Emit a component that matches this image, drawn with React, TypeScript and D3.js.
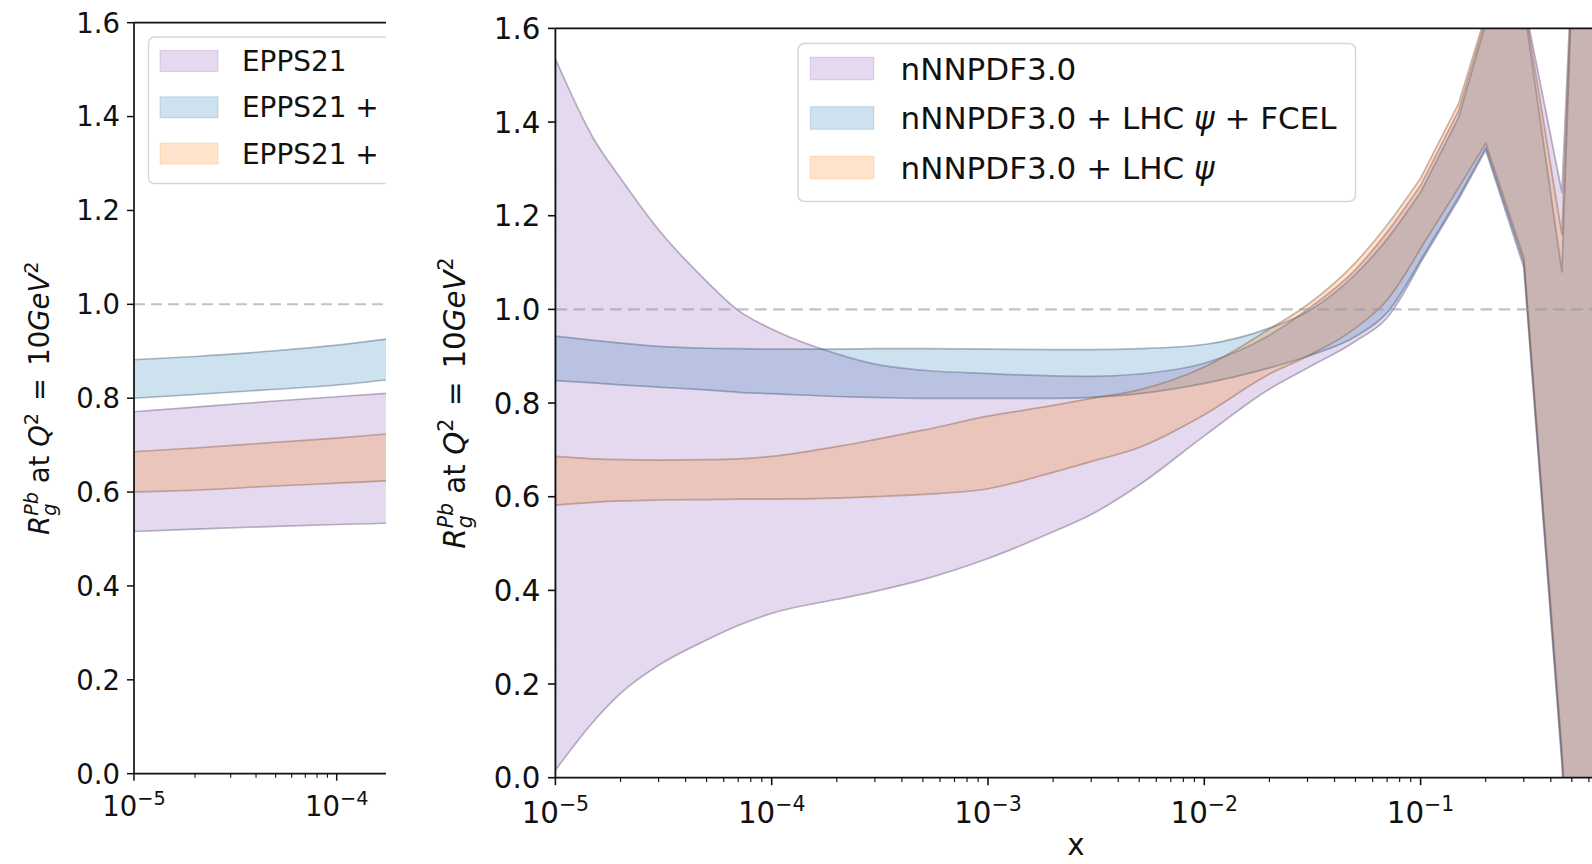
import * as d3 from 'd3';
import React, { useEffect, useRef } from 'react';

const W = 1592;
const H = 864;
const FONT = '"DejaVu Sans", Verdana, sans-serif';

// left panel: EPPS21 (only the first ~1.2 decades are visible)
const eppsX = [1e-5, 2e-5, 5e-5, 1e-4, 2e-4, 3e-4];
const eppsLo = [0.516, 0.521, 0.527, 0.531, 0.534, 0.536];
const eppsHi = [0.771, 0.781, 0.794, 0.803, 0.812, 0.817];
const eppsFcelLo = [0.8, 0.808, 0.819, 0.828, 0.841, 0.847];
const eppsFcelHi = [0.882, 0.889, 0.901, 0.913, 0.929, 0.938];
const eppsLhcLo = [0.6, 0.604, 0.613, 0.619, 0.625, 0.629];
const eppsLhcHi = [0.686, 0.694, 0.706, 0.715, 0.726, 0.732];

// right panel: nNNPDF3.0
const nnX = [1e-5, 1.5e-5, 2e-5, 3e-5, 5e-5, 7e-5, 1e-4, 2e-4, 3e-4, 5e-4, 1e-3, 2e-3, 3e-3, 5e-3,
  1e-2, 2e-2, 3e-2, 5e-2, 7e-2, 0.1, 0.15, 0.2, 0.3, 0.45, 0.5, 0.7, 1];
const nnHi = [1.535, 1.365, 1.28, 1.17, 1.06, 0.998, 0.958, 0.905, 0.883, 0.87, 0.863, 0.858, 0.857, 0.862,
  0.885, 0.945, 1.0, 1.085, 1.165, 1.265, 1.425, 1.62, 1.66, 1.25, 1.72, 2.0, 2.0];
const nnLo = [0.016, 0.12, 0.18, 0.24, 0.294, 0.325, 0.351, 0.381, 0.398, 0.423, 0.468, 0.525, 0.562, 0.625,
  0.73, 0.83, 0.875, 0.932, 0.982, 1.1, 1.235, 1.34, 1.09, 0.03, -0.3, -0.5, -0.5];
const nnFcelHi = [0.943, 0.934, 0.928, 0.921, 0.917, 0.916, 0.915, 0.915, 0.916, 0.916, 0.915, 0.914, 0.914, 0.916,
  0.925, 0.96, 0.995, 1.075, 1.15, 1.25, 1.41, 1.61, 1.65, 1.08, 1.68, 2.0, 2.0];
const nnFcelLo = [0.848, 0.843, 0.839, 0.834, 0.828, 0.823, 0.82, 0.814, 0.812, 0.81, 0.81, 0.81, 0.812, 0.82,
  0.842, 0.875, 0.9, 0.942, 0.993, 1.105, 1.24, 1.345, 1.1, 0.04, -0.3, -0.5, -0.5];
const nnLhcHi = [0.686, 0.681, 0.679, 0.678, 0.679, 0.681, 0.686, 0.707, 0.722, 0.742, 0.772, 0.795, 0.81, 0.828,
  0.877, 0.958, 1.01, 1.1, 1.18, 1.28, 1.44, 1.63, 1.66, 1.16, 1.7, 2.0, 2.0];
const nnLhcLo = [0.582, 0.588, 0.591, 0.593, 0.594, 0.595, 0.595, 0.597, 0.6, 0.605, 0.617, 0.652, 0.675, 0.705,
  0.775, 0.862, 0.9, 0.96, 1.02, 1.13, 1.26, 1.355, 1.11, 0.06, -0.3, -0.5, -0.5];

const eppsLabels = ['EPPS21', 'EPPS21 + LHC ψ + FCEL', 'EPPS21 + LHC ψ'];
const nnLabels = ['nNNPDF3.0', 'nNNPDF3.0 + LHC ψ + FCEL', 'nNNPDF3.0 + LHC ψ'];
const yTicks = [0, 0.2, 0.4, 0.6, 0.8, 1.0, 1.2, 1.4, 1.6];
const xTickExps = [-5, -4, -3, -2, -1];

const PURPLE = { fill: 'rgba(148,103,189,0.25)', edge: 'rgba(105,92,125,0.45)' };
const BLUE = { fill: 'rgba(31,119,180,0.22)', edge: 'rgba(60,88,118,0.42)' };
const ORANGE = { fill: 'rgba(255,127,14,0.22)', edge: 'rgba(135,88,70,0.42)' };

// smooth part with monotone curve, linear after splitX (sharp corners at large x)
function bandPath(xs, lo, hi, x, y, splitX) {
  let k = xs.findIndex((v) => v >= splitX);
  if (k < 0) k = xs.length - 1;
  const top = xs.map((v, i) => [x(v), y(hi[i])]);
  const bot = xs.map((v, i) => [x(v), y(lo[i])]).reverse();
  const smooth = d3.line().curve(d3.curveMonotoneX);
  const m = bot.length - 1 - k;
  const topPath = smooth(top.slice(0, k + 1)) + top.slice(k + 1).map((p) => `L${p[0]},${p[1]}`).join('');
  const botLin = bot.slice(0, m + 1).map((p) => `L${p[0]},${p[1]}`).join('');
  const botSmooth = smooth(bot.slice(m)).replace(/^M/, 'L');
  return topPath + botLin + botSmooth + 'Z';
}

function yLabel(g, cx, cy, fs) {
  const sub = fs * 0.7;
  const wPb = sub * 1.238;
  const wg = sub * 0.635;
  const t = g.append('text')
    .attr('transform', `translate(${cx},${cy}) rotate(-90)`)
    .attr('text-anchor', 'middle')
    .attr('font-family', FONT)
    .attr('font-size', fs)
    .attr('fill', '#111')
    .style('white-space', 'pre');
  t.append('tspan').attr('font-style', 'italic').text('R');
  t.append('tspan').attr('font-style', 'italic').attr('font-size', sub).attr('dy', -0.4 * fs).text('Pb');
  t.append('tspan').attr('font-style', 'italic').attr('font-size', sub).attr('dx', -wPb).attr('dy', 0.64 * fs).text('g');
  t.append('tspan').attr('dx', wPb - wg).attr('dy', -0.24 * fs).text(' at ');
  t.append('tspan').attr('font-style', 'italic').text('Q');
  t.append('tspan').attr('font-size', sub).attr('dy', -0.4 * fs).text('2');
  t.append('tspan').attr('dy', 0.4 * fs).attr('dx', 0.12 * fs).text(' = ');
  t.append('tspan').attr('dx', 0.12 * fs).text('10');
  t.append('tspan').attr('font-style', 'italic').text('GeV');
  t.append('tspan').attr('font-size', sub).attr('dy', -0.4 * fs).text('2');
}

function drawPanel(svg, p) {
  const s = p.s;
  const x = d3.scaleLog().domain([1e-5, 1]).range([p.x0, p.x0 + 5 * p.decade]);
  const y = d3.scaleLinear().domain([0, 1.6]).range([p.y0, p.y1]);

  const defs = svg.append('defs');
  defs.append('clipPath').attr('id', `plot-${p.id}`)
    .append('rect').attr('x', p.x0).attr('y', p.y1).attr('width', p.xClip - p.x0).attr('height', p.y0 - p.y1);
  defs.append('clipPath').attr('id', `panel-${p.id}`)
    .append('rect').attr('x', 0).attr('y', 0).attr('width', p.xClip).attr('height', H);

  const g = svg.append('g').attr('clip-path', `url(#panel-${p.id})`);
  const plot = g.append('g').attr('clip-path', `url(#plot-${p.id})`);

  p.bands.forEach((b) => {
    plot.append('path')
      .attr('d', bandPath(p.xs, b.lo, b.hi, x, y, p.split))
      .attr('fill', b.color.fill)
      .attr('stroke', b.color.edge)
      .attr('stroke-width', 1.6 * s)
      .attr('stroke-linejoin', 'round');
  });

  plot.append('line')
    .attr('x1', p.x0).attr('x2', p.xClip)
    .attr('y1', y(1)).attr('y2', y(1))
    .attr('stroke', '#9a9a9a').attr('stroke-opacity', 0.6)
    .attr('stroke-width', 2 * s)
    .attr('stroke-dasharray', `${11 * s},${6 * s}`);

  // spines
  g.append('line').attr('x1', p.x0).attr('x2', p.x0).attr('y1', p.y1).attr('y2', p.y0)
    .attr('stroke', '#111').attr('stroke-width', 1.7 * s);
  g.append('line').attr('x1', p.x0).attr('x2', p.xClip).attr('y1', p.y0).attr('y2', p.y0)
    .attr('stroke', '#111').attr('stroke-width', 1.7 * s);
  g.append('line').attr('x1', p.x0).attr('x2', p.xClip).attr('y1', p.y1).attr('y2', p.y1)
    .attr('stroke', '#111').attr('stroke-width', 1.7 * s);

  // y ticks
  yTicks.forEach((v) => {
    g.append('line').attr('x1', p.x0 - 7 * s).attr('x2', p.x0).attr('y1', y(v)).attr('y2', y(v))
      .attr('stroke', '#111').attr('stroke-width', 1.5 * s);
    g.append('text')
      .attr('x', p.x0 - 14 * s).attr('y', y(v)).attr('dy', '0.36em')
      .attr('text-anchor', 'end')
      .attr('font-family', FONT).attr('font-size', p.fs).attr('fill', '#111')
      .text(d3.format('.1f')(v));
  });

  // x ticks, major + minor
  xTickExps.forEach((e) => {
    const base = Math.pow(10, e);
    g.append('line').attr('x1', x(base)).attr('x2', x(base)).attr('y1', p.y0).attr('y2', p.y0 + 7 * s)
      .attr('stroke', '#111').attr('stroke-width', 1.5 * s);
    for (let m = 2; m <= 9; m++) {
      const v = m * base;
      g.append('line').attr('x1', x(v)).attr('x2', x(v)).attr('y1', p.y0).attr('y2', p.y0 + 4 * s)
        .attr('stroke', '#111').attr('stroke-width', 1.1 * s);
    }
    const t = g.append('text')
      .attr('x', x(base)).attr('y', p.y0 + 42 * s)
      .attr('text-anchor', 'middle')
      .attr('font-family', FONT).attr('font-size', p.fs).attr('fill', '#111');
    t.append('tspan').text('10');
    t.append('tspan').attr('font-size', p.fs * 0.7).attr('dy', -0.4 * p.fs).text(`\u2212${-e}`);
  });

  yLabel(g, p.ylabX, (p.y0 + p.y1) / 2, p.fs);

  // legend
  const L = p.legend;
  g.append('rect')
    .attr('x', L.x).attr('y', L.y).attr('width', L.w).attr('height', L.h)
    .attr('rx', 6 * s)
    .attr('fill', 'rgba(255,255,255,0.8)')
    .attr('stroke', '#d6d6d6').attr('stroke-width', 1.4 * s);
  p.bands.forEach((b, i) => {
    const cy = L.rows[i];
    g.append('rect')
      .attr('x', L.px).attr('y', cy - L.ph / 2).attr('width', L.pw).attr('height', L.ph)
      .attr('fill', b.color.fill).attr('stroke', b.color.fill).attr('stroke-width', 1);
    const t = g.append('text')
      .attr('x', L.tx).attr('y', cy).attr('dy', '0.36em')
      .attr('font-family', FONT).attr('font-size', L.fs).attr('fill', '#111')
      .style('white-space', 'pre');
    const parts = p.labels[i].split('ψ');
    parts.forEach((part, j) => {
      t.append('tspan').text(part);
      if (j < parts.length - 1) t.append('tspan').attr('font-style', 'italic').text('ψ');
    });
  });

  if (p.xlabel) {
    g.append('text')
      .attr('x', p.xlabel.x).attr('y', p.xlabel.y)
      .attr('text-anchor', 'middle')
      .attr('font-family', FONT).attr('font-size', p.fs).attr('fill', '#111')
      .text('x');
  }
}

const leftPanel = {
  id: 'epps',
  x0: 134, decade: 202.7, y0: 773.7, y1: 22.7, xClip: 386, s: 1, fs: 27.5,
  xs: eppsX, split: Infinity,
  bands: [
    { lo: eppsLo, hi: eppsHi, color: PURPLE },
    { lo: eppsFcelLo, hi: eppsFcelHi, color: BLUE },
    { lo: eppsLhcLo, hi: eppsLhcHi, color: ORANGE },
  ],
  labels: eppsLabels,
  ylabX: 49,
  legend: { x: 148.5, y: 37, w: 560, h: 146.5, rows: [61, 107.3, 153.6], px: 160, pw: 58, ph: 21, tx: 242, fs: 27.9 },
  xlabel: null,
};

const rightPanel = {
  id: 'nnpdf',
  x0: 555.4, decade: 216.3, y0: 777.7, y1: 28.4, xClip: W, s: 1.067, fs: 29.3,
  xs: nnX, split: 0.1,
  bands: [
    { lo: nnLo, hi: nnHi, color: PURPLE },
    { lo: nnFcelLo, hi: nnFcelHi, color: BLUE },
    { lo: nnLhcLo, hi: nnLhcHi, color: ORANGE },
  ],
  labels: nnLabels,
  ylabX: 465,
  legend: { x: 798, y: 43.5, w: 557.5, h: 158, rows: [68.5, 118, 167.5], px: 810.3, pw: 63.5, ph: 22.5, tx: 900.6, fs: 31 },
  xlabel: { x: 1076, y: 855 },
};

export default function App() {
  const svgRef = useRef(null);

  useEffect(() => {
    const svg = d3.select(svgRef.current);
    svg.selectAll('*').remove();
    drawPanel(svg, leftPanel);
    drawPanel(svg, rightPanel);
  }, []);

  return (
    <svg
      ref={svgRef}
      width={W}
      height={H}
      style={{ position: 'absolute', left: 0, top: 0, background: '#fff' }}
    />
  );
}
